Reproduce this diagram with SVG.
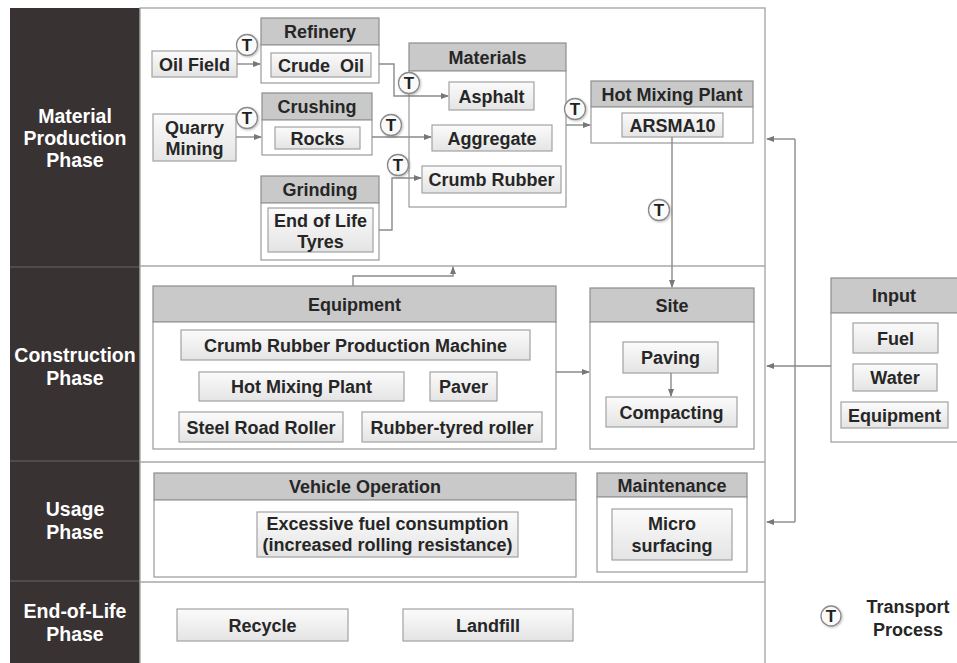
<svg xmlns="http://www.w3.org/2000/svg" width="957" height="663" viewBox="0 0 957 663">
<defs>
<linearGradient id="g" x1="0" y1="0" x2="0" y2="1"><stop offset="0" stop-color="#fbfbfb"/><stop offset="1" stop-color="#e4e4e4"/></linearGradient>
<marker id="a" viewBox="0 0 8 8" refX="7" refY="4" markerWidth="6" markerHeight="6" orient="auto"><path d="M0,1 L8,4 L0,7 z" fill="#777"/></marker>
<filter id="sh" x="-20%" y="-20%" width="150%" height="150%"><feDropShadow dx="1" dy="1" stdDeviation="0.8" flood-color="#000" flood-opacity="0.25"/></filter>
</defs>
<style>
text{font-family:"Liberation Sans",Arial,sans-serif;font-weight:bold;fill:#262626;text-anchor:middle;font-size:18px}
.ph{fill:#fff;font-size:19.5px}
.hdr{fill:#c9c9c9;stroke:#8e8e8e;stroke-width:1.2}
.body{fill:#fff;stroke:#9a9a9a;stroke-width:1.2}
.box{fill:url(#g);stroke:#a2a2a2;stroke-width:1.2}
.c{stroke:#8a8a8a;stroke-width:1.4;fill:none}
.ca{stroke:#8a8a8a;stroke-width:1.4;fill:none;marker-end:url(#a)}
.tc{fill:#fafafa;stroke:#8a8a8a;stroke-width:1.3;filter:url(#sh)}
.tt{font-size:17px;fill:#222}
</style>
<rect x="0" y="0" width="957" height="663" fill="#fff"/>
<g id="phases">
<rect x="10" y="8" width="130" height="655" fill="#383232"/>
<g stroke="#6b6565" stroke-width="1.2"><line x1="10" y1="267" x2="140" y2="267"/><line x1="10" y1="461" x2="140" y2="461"/><line x1="10" y1="581" x2="140" y2="581"/></g>
<text class="ph" x="75" y="123">Material</text><text class="ph" x="75" y="145">Production</text><text class="ph" x="75" y="167">Phase</text>
<text class="ph" x="75" y="362">Construction</text><text class="ph" x="75" y="385">Phase</text>
<text class="ph" x="75" y="516">Usage</text><text class="ph" x="75" y="539">Phase</text>
<text class="ph" x="75" y="618">End-of-Life</text><text class="ph" x="75" y="641">Phase</text>
</g>
<g id="frame" fill="none" stroke="#a8a8a8" stroke-width="1.4">
<rect x="140" y="8" width="625" height="662"/>
<line x1="140" y1="266" x2="765" y2="266"/><line x1="140" y1="462" x2="765" y2="462"/><line x1="140" y1="582" x2="765" y2="582"/>
</g>
<g id="oil-field"><rect class="box" x="152" y="51" width="85" height="26"/><text x="194.5" y="70.5">Oil Field</text></g>
<g id="refinery"><rect class="hdr" x="261" y="18" width="118" height="27"/><rect class="body" x="261" y="45" width="118" height="38"/><text x="320" y="38">Refinery</text>
<rect class="box" x="271" y="53" width="100" height="24"/><text x="321" y="71.5" xml:space="preserve">Crude  Oil</text></g>
<g id="quarry"><rect class="box" x="153" y="114" width="83" height="47"/><text x="194.5" y="134">Quarry</text><text x="194.5" y="155">Mining</text></g>
<g id="crushing"><rect class="hdr" x="262" y="93" width="110" height="27"/><rect class="body" x="262" y="120" width="110" height="35"/><text x="317" y="113">Crushing</text>
<rect class="box" x="275" y="127" width="85" height="22"/><text x="317.5" y="144.5">Rocks</text></g>
<g id="grinding"><rect class="hdr" x="261" y="176" width="118" height="27"/><rect class="body" x="261" y="203" width="118" height="57"/><text x="320" y="196">Grinding</text>
<rect class="box" x="268" y="208" width="105" height="44"/><text x="320.5" y="227">End of Life</text><text x="320.5" y="248">Tyres</text></g>
<g id="materials"><rect class="hdr" x="409" y="43" width="157" height="28"/><rect class="body" x="409" y="71" width="157" height="136"/><text x="487.5" y="63.5">Materials</text>
<rect class="box" x="449" y="82" width="85" height="28"/><text x="491.5" y="102.5">Asphalt</text>
<rect class="box" x="432" y="125" width="120" height="26"/><text x="492" y="144.5">Aggregate</text>
<rect class="box" x="422" y="166" width="139" height="27"/><text x="491.5" y="186">Crumb Rubber</text></g>
<g id="hot-mixing-plant"><rect class="hdr" x="591" y="81" width="162" height="26"/><rect class="body" x="591" y="107" width="162" height="36"/><text x="672" y="100.5">Hot Mixing Plant</text>
<rect class="box" x="622" y="113" width="101" height="24"/><text x="672.5" y="131.5">ARSMA10</text></g>
<g id="equipment"><rect class="hdr" x="153" y="286" width="403" height="36"/><rect class="body" x="153" y="322" width="403" height="127"/><text x="354.5" y="310.5">Equipment</text>
<rect class="box" x="181" y="330" width="349" height="30"/><text x="355.5" y="351.5">Crumb Rubber Production Machine</text>
<rect class="box" x="199" y="372" width="205" height="29"/><text x="301.5" y="393">Hot Mixing Plant</text>
<rect class="box" x="430" y="372" width="67" height="29"/><text x="463.5" y="393">Paver</text>
<rect class="box" x="179" y="412" width="164" height="30"/><text x="261" y="433.5">Steel Road Roller</text>
<rect class="box" x="362" y="412" width="180" height="30"/><text x="452" y="433.5">Rubber-tyred roller</text></g>
<g id="site"><rect class="hdr" x="590" y="288" width="164" height="34"/><rect class="body" x="590" y="322" width="164" height="127"/><text x="672" y="311.5">Site</text>
<rect class="box" x="623" y="342" width="95" height="31"/><text x="670.5" y="364">Paving</text>
<rect class="box" x="606" y="397" width="131" height="30"/><text x="671.5" y="418.5">Compacting</text></g>
<g id="input"><rect class="hdr" x="831" y="278" width="130" height="35"/><rect class="body" x="831" y="313" width="130" height="129"/><text x="894" y="302">Input</text>
<rect class="box" x="853" y="323" width="85" height="30"/><text x="895.5" y="344.5">Fuel</text>
<rect class="box" x="853" y="364" width="84" height="27"/><text x="895" y="384">Water</text>
<rect class="box" x="841" y="402" width="107" height="26"/><text x="894.5" y="421.5">Equipment</text></g>
<g id="vehicle-operation"><rect class="hdr" x="154" y="473" width="422" height="27"/><rect class="body" x="154" y="500" width="422" height="77"/><text x="365" y="493">Vehicle Operation</text>
<rect class="box" x="257" y="512" width="261" height="45"/><text x="387.5" y="530">Excessive fuel consumption</text><text x="387.5" y="551">(increased rolling resistance)</text></g>
<g id="maintenance"><rect class="hdr" x="597" y="473" width="150" height="24"/><rect class="body" x="597" y="497" width="150" height="75"/><text x="672" y="491.5">Maintenance</text>
<rect class="box" x="612" y="509" width="120" height="51"/><text x="672" y="530">Micro</text><text x="672" y="552">surfacing</text></g>
<g id="recycle"><rect class="box" x="177" y="609" width="171" height="32"/><text x="262.5" y="631.5">Recycle</text></g>
<g id="landfill"><rect class="box" x="403" y="609" width="170" height="32"/><text x="488" y="631.5">Landfill</text></g>
<g id="connectors">
<path class="ca" d="M237,64 H260"/>
<path class="ca" d="M236,137 H261"/>
<path class="ca" d="M379,64 H394 V96 H448"/>
<path class="ca" d="M372,137 H431"/>
<path class="ca" d="M379,230 H392 V178 H421"/>
<path class="ca" d="M566,125 H590"/>
<path class="ca" d="M672,137 V287"/>
<path class="ca" d="M353,286 V276 H453 V267"/>
<path class="ca" d="M556,372 H589"/>
<path class="ca" d="M671,373 V396"/>
<path class="ca" d="M831,366 H767"/>
<path class="c" d="M795,139 V522"/>
<path class="ca" d="M795,139 H767"/>
<path class="ca" d="M795,522 H767"/>
</g>
<g id="transport">
<g><circle class="tc" cx="247" cy="45" r="10.5"/><text class="tt" x="247" y="51">T</text></g>
<g><circle class="tc" cx="247" cy="118" r="10.5"/><text class="tt" x="247" y="124">T</text></g>
<g><circle class="tc" cx="409" cy="83" r="10.5"/><text class="tt" x="409" y="89">T</text></g>
<g><circle class="tc" cx="391" cy="125" r="10.5"/><text class="tt" x="391" y="131">T</text></g>
<g><circle class="tc" cx="398" cy="165" r="10.5"/><text class="tt" x="398" y="171">T</text></g>
<g><circle class="tc" cx="575" cy="109" r="10.5"/><text class="tt" x="575" y="115">T</text></g>
<g><circle class="tc" cx="659" cy="210" r="10.5"/><text class="tt" x="659" y="216">T</text></g>
</g>
<g id="legend"><circle class="tc" cx="831" cy="616" r="10"/><text class="tt" x="831" y="622">T</text>
<text x="908" y="613">Transport</text><text x="908" y="636">Process</text></g>
</svg>
